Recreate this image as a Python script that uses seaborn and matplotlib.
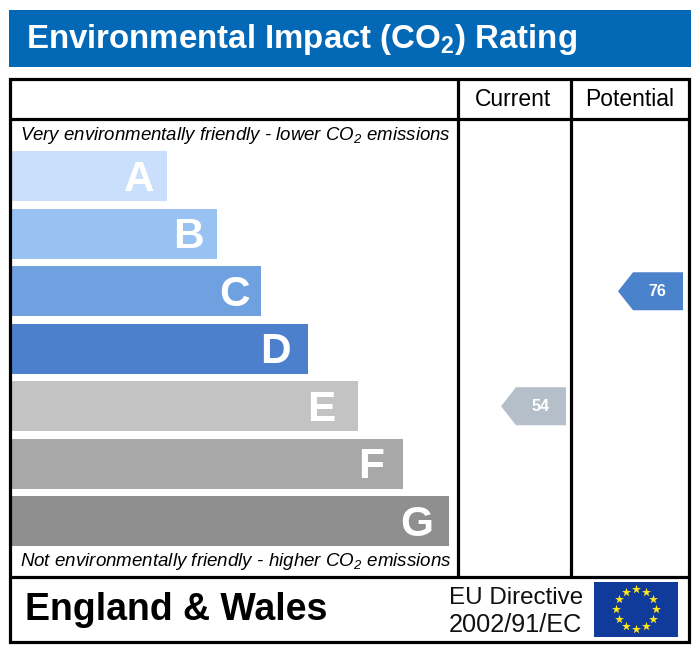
import matplotlib
matplotlib.use("Agg")
import matplotlib.pyplot as plt
from matplotlib.patches import Rectangle, Polygon
import numpy as np
import pandas as pd
import seaborn as sns

bands = ["A", "B", "C", "D", "E", "F", "G"]
band_lengths = [155, 205, 249, 296, 346, 391, 437]
band_colors = ["#C9DFFB", "#98C2F1", "#6FA1E0", "#4C80CC", "#C3C3C3", "#A8A8A8", "#8F8F8F"]
letter_insets = [12, 13, 11, 17, 23, 19, 16]
columns = ["Current", "Potential"]
ratings = [54, 76]
rating_bands = ["E", "C"]
rating_colors = ["#B5BFCA", "#4A83CB"]
title = r"Environmental Impact (CO$\mathregular{_2}$) Rating"
top_note = r"Very environmentally friendly - lower CO$\mathregular{_2}$ emissions"
bottom_note = r"Not environmentally friendly - higher CO$\mathregular{_2}$ emissions"
footer_left = "England & Wales"
footer_right = ["EU Directive", "2002/91/EC"]

W, H = 700, 651
sns.set_theme(style="white")
plt.rcParams["font.family"] = ["Liberation Sans", "DejaVu Sans"]
plt.rcParams["mathtext.default"] = "regular"

fig = plt.figure(figsize=(W / 100, H / 100), dpi=100, facecolor="white")

# page-wide pixel canvas, above the bars
page = fig.add_axes([0, 0, 1, 1])
page.set_xlim(0, W)
page.set_ylim(H, 0)
page.axis("off")
page.set_zorder(2)

page.add_patch(Rectangle((9, 9.5), 682, 57.5, fc="#0368B6", ec="none"))
page.text(26, 48, title, color="white", fontsize=23.8, fontweight="bold", va="baseline", ha="left")

# frame
LW = 2.3
page.add_patch(Rectangle((10, 79), 678.5, 562.5, fc="none", ec="black", lw=LW, zorder=5))
for x in (457.5, 571):
    page.plot([x, x], [79, 577], color="black", lw=LW, solid_capstyle="butt", zorder=5)
for y in (118.5, 577):
    page.plot([10, 688.5], [y, y], color="black", lw=LW, solid_capstyle="butt", zorder=5)

page.text(513.5, 100, columns[0], fontsize=16.5, ha="center", va="center", color="black")
page.text(630, 100, columns[1], fontsize=16.5, ha="center", va="center", color="black")
page.text(20.5, 135.5, top_note, fontsize=13.45, style="italic", ha="left", va="center", color="black")
page.text(20.5, 562, bottom_note, fontsize=13.5, style="italic", ha="left", va="center", color="black")

# rating bars
ROW, TOP = 57.5, 147.5
bar_ax = fig.add_axes([12 / W, 1 - (TOP + 7 * ROW) / H, 446 / W, 7 * ROW / H])
df = pd.DataFrame({"band": bands, "length": band_lengths})
sns.barplot(data=df, x="length", y="band", hue="band", palette=band_colors, dodge=False,
            width=50 / ROW, legend=False, ax=bar_ax, saturation=1, linewidth=0)
bar_ax.set_xlim(0, 446)
bar_ax.axis("off")
bar_ax.patch.set_alpha(0)
for i, (b, v, ins) in enumerate(zip(bands, band_lengths, letter_insets)):
    bar_ax.text(v - ins, i + 0.06, b, color="white", fontsize=30.5, fontweight="bold", ha="right", va="center")

# pointers
right_edges = [566, 683]
for r, b, c, xr in zip(ratings, rating_bands, rating_colors, right_edges):
    y = TOP + ROW * (bands.index(b) + 0.5)
    page.add_patch(Polygon([(xr, y - 19), (xr - 50, y - 19), (xr - 65, y), (xr - 50, y + 19), (xr, y + 19)],
                           closed=True, fc=c, ec="none"))
    page.text(xr - 25.5, y + 0.5, str(r), color="white", fontsize=11.5, fontweight="bold", ha="center", va="center")

# footer
page.text(25, 610, footer_left, fontsize=27, fontweight="bold", ha="left", va="center", color="black")
page.text(449, 598.5, footer_right[0], fontsize=17.4, ha="left", va="center", color="#111111")
page.text(449, 624.5, footer_right[1], fontsize=18.2, ha="left", va="center", color="#111111")
page.add_patch(Rectangle((594, 582), 84, 55, fc="#103B9B", ec="none"))
ang = np.deg2rad(np.arange(0, 360, 30))
page.scatter(636 + 20 * np.cos(ang), 609 + 20 * np.sin(ang), marker="*", s=45, c="#FFE81A", linewidths=0, zorder=6)

fig.savefig("out.png", dpi=100, facecolor="white")
